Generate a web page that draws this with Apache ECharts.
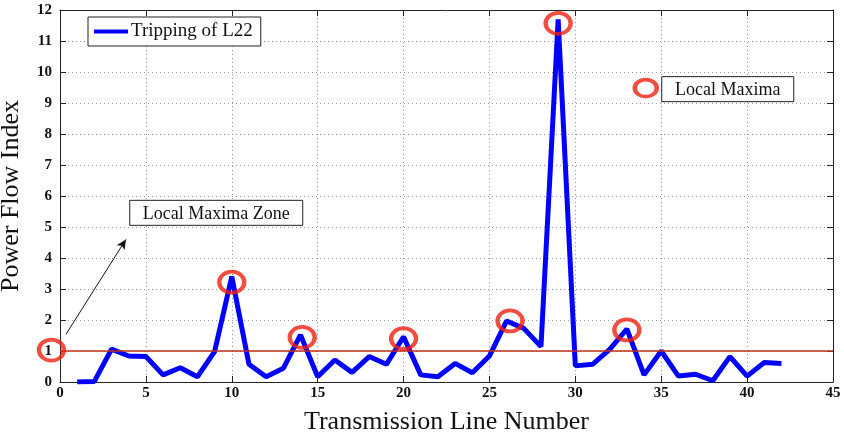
<!DOCTYPE html>
<html>
<head>
<meta charset="utf-8">
<script src="https://cdn.jsdelivr.net/npm/echarts@6/dist/echarts.min.js"></script>
<style>
html, body { margin: 0; padding: 0; background: #fff; }
#chart { width: 844px; height: 437px; }
</style>
</head>
<body>
<div id="chart"></div>
<script>
// transmission line numbers and power flow index after tripping L22
const lineNumbers = [1,2,3,4,5,6,7,8,9,10,11,12,13,14,15,16,17,18,19,20,21,22,23,24,25,26,27,28,29,30,31,32,33,34,35,36,37,38,39,40,41,42]
const pfiValues = [0,0.02,1.06,0.84,0.82,0.23,0.46,0.17,0.98,3.4,0.57,0.17,0.44,1.52,0.17,0.71,0.31,0.82,0.57,1.46,0.23,0.17,0.6,0.3,0.84,1.97,1.73,1.14,11.7,0.52,0.57,1.05,1.71,0.23,1.0,0.19,0.25,0.04,0.82,0.19,0.63,0.6]

// red circles marking the local maxima
const maximaX = [-0.5, 10, 14.1, 20, 26.2, 29, 33]
const maximaY = [1.03, 3.22, 1.44, 1.4, 1.97, 11.57, 1.68]
const keyCircle = [34.1, 9.48]

const threshold = 1
const arrowFrom = [0.35, 1.54]
const arrowTo = [3.84, 4.6]

const xTicks = { min: 0, max: 45, interval: 5 }
const yTicks = { min: 0, max: 12, interval: 1 }

const serif = "Liberation Serif"

let myChart = echarts.init(document.getElementById("chart"))

let gridLine = {
    show: true,
    lineStyle: { color: "#999", type: [1, 3], width: 1 }
}
let frameLine = { show: true, onZero: false, lineStyle: { color: "#222", width: 1 } }
let tickLabel = { fontFamily: serif, fontSize: 15, fontWeight: "bold", color: "#111" }

let option = {
    animation: false,
    backgroundColor: "#fff",
    grid: { left: 60, right: 11, top: 10, bottom: 55, containLabel: false, outerBoundsMode: "none" },
    legend: {
        left: 88,
        top: 17,
        itemWidth: 34,
        itemHeight: 4,
        itemGap: 0,
        padding: [5, 8, 5, 6],
        borderColor: "#222",
        borderWidth: 1,
        backgroundColor: "#fff",
        data: [{ name: "Tripping of L22", icon: "rect" }],
        textStyle: { fontFamily: serif, fontSize: 19, color: "#111", padding: [0, 0, 0, -2] }
    },
    xAxis: [
        {
            type: "value",
            min: xTicks.min, max: xTicks.max, interval: xTicks.interval,
            name: "Transmission Line Number",
            nameLocation: "middle",
            nameGap: 27,
            nameTextStyle: { fontFamily: serif, fontSize: 26, color: "#111" },
            axisLine: frameLine,
            axisTick: { show: true, inside: true, length: 6, lineStyle: { color: "#222" } },
            axisLabel: Object.assign({ margin: 4 }, tickLabel),
            splitLine: gridLine
        },
        {
            type: "value",
            position: "top",
            min: xTicks.min, max: xTicks.max, interval: xTicks.interval,
            axisLine: frameLine,
            axisTick: { show: true, inside: true, length: 6, lineStyle: { color: "#222" } },
            axisLabel: { show: false },
            splitLine: { show: false }
        }
    ],
    yAxis: [
        {
            type: "value",
            min: yTicks.min, max: yTicks.max, interval: yTicks.interval,
            name: "Power Flow Index",
            nameLocation: "middle",
            nameGap: 36,
            nameTextStyle: { fontFamily: serif, fontSize: 26, color: "#111" },
            axisLine: frameLine,
            axisTick: { show: true, inside: true, length: 6, lineStyle: { color: "#222" } },
            axisLabel: Object.assign({ margin: 8 }, tickLabel),
            splitLine: gridLine
        },
        {
            type: "value",
            position: "right",
            min: yTicks.min, max: yTicks.max, interval: yTicks.interval,
            axisLine: frameLine,
            axisTick: { show: true, inside: true, length: 6, lineStyle: { color: "#222" } },
            axisLabel: { show: false },
            splitLine: { show: false }
        }
    ],
    series: [
        {
            name: "Tripping of L22",
            type: "line",
            data: lineNumbers.map((n, i) => [n, pfiValues[i]]),
            symbol: "none",
            color: "#0000ff",
            lineStyle: { color: "#0000ff", width: 5 },
            z: 3,
            markLine: {
                silent: true,
                symbol: "none",
                label: { show: false },
                data: [
                    { yAxis: threshold, lineStyle: { color: "#c0301a", width: 1.5, type: "solid" } },
                    [
                        { coord: arrowFrom, symbol: "none" },
                        { coord: arrowTo, symbol: "arrow", symbolSize: [7, 10] }
                    ]
                ],
                lineStyle: { color: "#111", width: 1, type: "solid" }
            }
        },
        {
            name: "maxima",
            type: "scatter",
            clip: false,
            data: maximaX.map((x, i) => [x, maximaY[i]]),
            symbol: "circle",
            symbolSize: [25, 21],
            itemStyle: { color: "rgba(0,0,0,0)", borderColor: "#ee2010", borderWidth: 4 },
            z: 5
        },
        {
            name: "key",
            type: "scatter",
            data: [keyCircle],
            symbol: "circle",
            symbolSize: [22, 17],
            itemStyle: { color: "rgba(0,0,0,0)", borderColor: "#ee2010", borderWidth: 4 },
            z: 5
        }
    ]
}
myChart.setOption(option)

// text boxes placed from data coordinates
let zoneAt = myChart.convertToPixel({ xAxisIndex: 0, yAxisIndex: 0 }, [4.06, 5.86])
let keyAt = myChart.convertToPixel({ xAxisIndex: 0, yAxisIndex: 0 }, [35.03, 9.85])

function textBox(pos, w, h, str){
    return {
        type: "group",
        x: pos[0],
        y: pos[1],
        z: 10,
        children: [
            { type: "rect", shape: { x: 0, y: 0, width: w, height: h }, style: { fill: "#fff", stroke: "#222", lineWidth: 1 } },
            { type: "text", x: w / 2, y: h / 2 + 1, style: { text: str, font: "18px " + serif, fill: "#111", align: "center", verticalAlign: "middle" } }
        ]
    }
}

myChart.setOption({
    graphic: [
        textBox(zoneAt, 173, 25, "Local Maxima Zone"),
        textBox(keyAt, 132, 25, "Local Maxima")
    ]
})
</script>
</body>
</html>
